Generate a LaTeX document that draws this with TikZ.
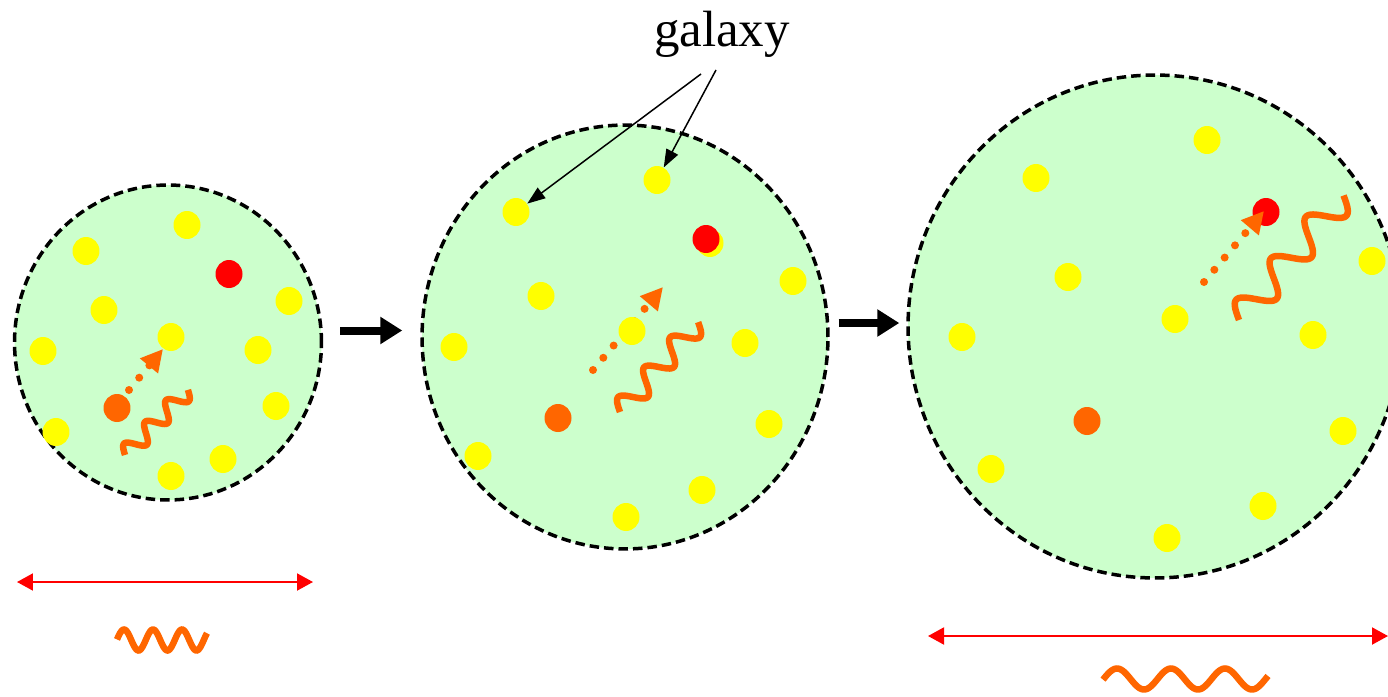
\documentclass[tikz,border=0pt]{standalone}
\usepackage{fontspec}
\setmainfont{Liberation Serif}
\definecolor{spacegreen}{RGB}{204, 255, 204}
\definecolor{galyellow}{RGB}{255, 255, 0}
\definecolor{galred}{RGB}{255, 0, 0}
\definecolor{lightorange}{RGB}{255, 102, 0}
\usetikzlibrary{shapes.geometric, arrows.meta}

\begin{document}
\begin{tikzpicture}[x=0.02cm, y=-0.02cm,
  region/.style={ellipse, draw, fill=spacegreen, line width=0.07cm, dash pattern=on 0.19cm off 0.1cm, inner sep=0pt},
  gal/.style={ellipse, fill=galyellow, minimum width=0.54cm, minimum height=0.56cm, inner sep=0pt},
  redgal/.style={gal, fill=galred},
  orgal/.style={gal, fill=lightorange},
  bigarrow/.style={line width=0.16cm, -{Triangle[length=0.44cm, width=0.52cm]}},
  thinarrow/.style={line width=0.03cm, -{Triangle[length=0.36cm, width=0.26cm]}},
  lightpath/.style={lightorange, line width=0.16cm, line cap=round, dash pattern=on 0pt off 0.32cm, -{Triangle[length=0.44cm, width=0.44cm]}},
  wave/.style={draw=lightorange, line width=0.13cm},
  meas/.style={draw=galred, line width=0.04cm, {Triangle[length=0.32cm, width=0.34cm]}-{Triangle[length=0.32cm, width=0.34cm]}}
]
  \useasboundingbox (0,0) rectangle (1388,696);

  % three epochs of the expanding region
  \node[region, minimum width=6.14cm, minimum height=6.3cm] (c1) at (168,342.5) {};
  \node[region, minimum width=8.12cm, minimum height=8.48cm] (c2) at (625,337) {};
  \node[region, minimum width=9.88cm, minimum height=10.06cm] (c3) at (1155,326.5) {};

  \draw[bigarrow, shorten <=0.34cm, shorten >=0.36cm] ([yshift=0.24cm]c1.east) -- ([yshift=0.24cm]c1.east -| c2.west);
  \draw[bigarrow, shorten <=0.18cm, shorten >=0.14cm] ([yshift=0.28cm]c2.east) -- ([yshift=0.28cm]c2.east -| c3.west);

  % light travelling between galaxies
  \coordinate (l1s) at (129,390);
  \coordinate (l1e) at (163,349);
  \coordinate (l2s) at (593,370);
  \coordinate (l2e) at (663,287);
  \coordinate (l3s) at (1204,282);
  \coordinate (l3e) at (1264,211);
  \draw[lightpath] (l1s) -- (l1e);
  \draw[lightpath] (l2s) -- (l2e);

  % first epoch
  \node[gal] (g1a) at (187,225) {};
  \node[gal] (g1b) at (86,251) {};
  \node[redgal] (r1) at (229,274) {};
  \node[gal] (g1c) at (289,301) {};
  \node[gal] (g1d) at (104,310) {};
  \node[gal] (g1e) at (171,337) {};
  \node[gal] (g1f) at (43,351) {};
  \node[gal] (g1g) at (258,350) {};
  \node[orgal] (o1) at (117,408) {};
  \node[gal] (g1h) at (276,406) {};
  \node[gal] (g1i) at (56,432) {};
  \node[gal] (g1j) at (223,459) {};
  \node[gal] (g1k) at (171,476) {};

  % second epoch
  \node[gal] (g2a) at (516,212) {};
  \node[gal] (g2b) at (657,180) {};
  \node[gal] (g2c) at (710,243) {};
  \node[redgal] (r2) at (706,239) {};
  \node[gal] (g2d) at (793,281) {};
  \node[gal] (g2e) at (541,296) {};
  \node[gal] (g2f) at (454,347) {};
  \node[gal] (g2g) at (632,331) {};
  \node[gal] (g2h) at (745,343) {};
  \node[orgal] (o2) at (558,418) {};
  \node[gal] (g2i) at (769,424) {};
  \node[gal] (g2j) at (478,456) {};
  \node[gal] (g2k) at (702,490) {};
  \node[gal] (g2l) at (626,517) {};

  % third epoch
  \node[gal] (g3a) at (1207,140) {};
  \node[gal] (g3b) at (1036,178) {};
  \node[redgal] (r3) at (1266,212) {};
  \node[gal] (g3c) at (1372,261) {};
  \node[gal] (g3d) at (1068,277) {};
  \node[gal] (g3e) at (1175,319) {};
  \node[gal] (g3f) at (962,337) {};
  \node[gal] (g3g) at (1313,335) {};
  \node[orgal] (o3) at (1087,421) {};
  \node[gal] (g3h) at (1343,431) {};
  \node[gal] (g3i) at (991,469) {};
  \node[gal] (g3j) at (1263,506) {};
  \node[gal] (g3k) at (1167,538) {};
  \draw[lightpath] (l3s) -- (l3e);

  % stretched photons
  \draw[wave, shift={(125,455)}, rotate=46] plot[domain=0:3, samples=90, variable=\t] ({30.2*\t}, {-8.6*sin(360*\t)});
  \draw[wave, shift={(620,412)}, rotate=49] plot[domain=0:3, samples=90, variable=\t] ({39.7*\t}, {-11.2*sin(360*\t)});
  \draw[wave, shift={(1239,320)}, rotate=50] plot[domain=0:3, samples=120, variable=\t] ({54.2*\t}, {-15.2*sin(360*\t)});

  % label
  \node[anchor=base, inner sep=0pt, font=\fontsize{29}{32}\selectfont] (galaxy) at (722,47) {galaxy};
  \draw[thinarrow] ([xshift=-0.42cm, yshift=-0.54cm]galaxy.base) -- (g2a);
  \draw[thinarrow] ([xshift=-0.12cm, yshift=-0.46cm]galaxy.base) -- (g2b);

  % sizes and wavelengths
  \coordinate (m1l) at (17,582);
  \coordinate (m1r) at (313,582);
  \coordinate (m3l) at (928,636);
  \coordinate (m3r) at (1388,636);
  \draw[meas] (m1l) -- (m1r);
  \draw[meas] (m3l) -- (m3r);
  \draw[wave] plot[domain=117:207, samples=90] (\x, {640 - 10.5*cos(360/29*(\x-124))});
  \draw[wave] plot[domain=1103:1268, samples=120] (\x, {679 - 10.5*cos(360/54*(\x-1117))});
\end{tikzpicture}
\end{document}
